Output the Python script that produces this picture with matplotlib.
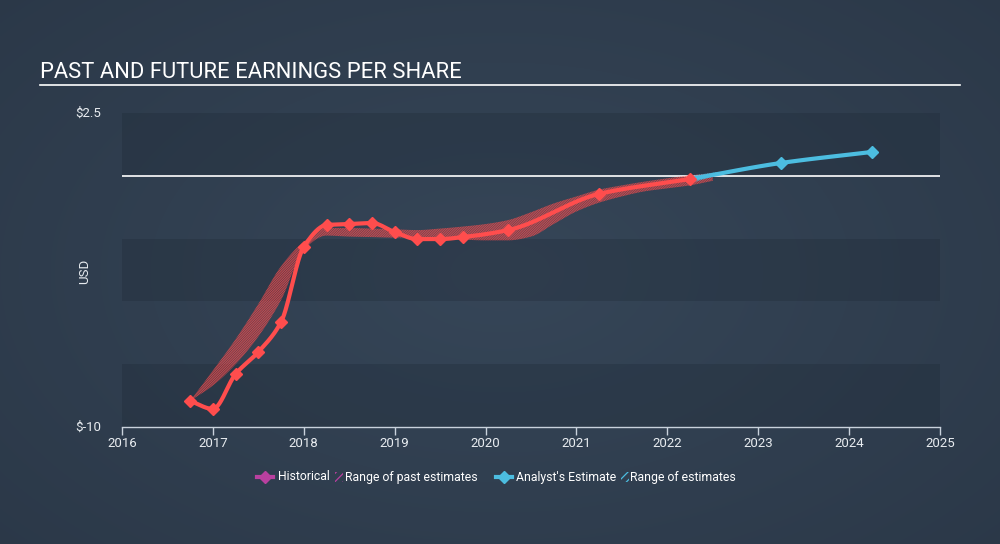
import numpy as np
import matplotlib
matplotlib.use("Agg")
import matplotlib.pyplot as plt
from matplotlib.lines import Line2D
from matplotlib.patches import Rectangle

# ---------------- data ----------------
hist_x = [2016.75, 2017.0, 2017.25, 2017.5, 2017.75, 2018.0, 2018.25, 2018.5,
          2018.75, 2019.0, 2019.25, 2019.5, 2019.75, 2020.25, 2021.25, 2022.25]
hist_eps = [-8.96, -9.28, -7.89, -7.01, -5.82, -2.83, -1.96, -1.92,
            -1.88, -2.24, -2.52, -2.52, -2.44, -2.16, -0.72, -0.13]

fc_x = [2022.25, 2023.25, 2024.25]
fc_eps = [-0.13, 0.51, 0.95]

past_rng_x = [2016.75, 2017.0, 2017.25, 2017.5, 2017.75, 2018.0, 2018.25, 2018.5,
              2018.75, 2019.0, 2019.25, 2019.5, 2019.75, 2020.0, 2020.25, 2020.5,
              2020.75, 2021.0, 2021.25, 2021.5, 2021.75, 2022.0, 2022.25, 2022.5]
past_rng_low = [-8.96, -8.35, -7.5, -6.4, -4.95, -2.95, -2.38, -2.42,
                -2.44, -2.46, -2.44, -2.47, -2.54, -2.57, -2.57, -2.42,
                -1.92, -1.42, -1.07, -0.82, -0.62, -0.5, -0.38, -0.2]
past_rng_high = [-8.96, -7.75, -6.5, -5.1, -3.6, -2.62, -2.08, -2.08,
                 -2.1, -2.13, -2.16, -2.1, -2.02, -1.92, -1.76, -1.45,
                 -1.1, -0.82, -0.55, -0.38, -0.23, -0.1, 0.02, 0.1]

fc_rng_x = [2022.25, 2022.55]
fc_rng_low = [-0.3, 0.02]
fc_rng_high = [0.0, 0.15]

x_ticks = list(range(2016, 2026))
y_tick_vals = [-10, 2.5]
y_tick_labels = ["$-10", "$2.5"]
band_edges = [(0, 2.5), (-5, -2.5), (-10, -7.5)]

title = "PAST AND FUTURE EARNINGS PER SHARE"
legend_items = ["Historical", "Range of past estimates", "Analyst's Estimate", "Range of estimates"]

RED = "#ff4d4d"
BLUE = "#4cbde0"
MAGENTA = "#b8409f"
TEXT = "#e8ecf0"


def monotone(x, y, n=30):
    """Monotone cubic (Fritsch-Carlson) rendering of a polyline."""
    x = np.asarray(x, float); y = np.asarray(y, float)
    if len(x) < 3:
        return x, y
    h = np.diff(x); d = np.diff(y) / h
    m = np.zeros_like(y)
    m[0] = d[0]; m[-1] = d[-1]
    for i in range(1, len(x) - 1):
        if d[i - 1] * d[i] <= 0:
            m[i] = 0
        else:
            w1 = 2 * h[i] + h[i - 1]; w2 = h[i] + 2 * h[i - 1]
            m[i] = (w1 + w2) / (w1 / d[i - 1] + w2 / d[i])
    xs, ys = [], []
    for i in range(len(x) - 1):
        t = np.linspace(0, 1, n, endpoint=(i == len(x) - 2))
        h00 = 2 * t**3 - 3 * t**2 + 1; h10 = t**3 - 2 * t**2 + t
        h01 = -2 * t**3 + 3 * t**2; h11 = t**3 - t**2
        xs.append(x[i] + t * h[i])
        ys.append(h00 * y[i] + h10 * h[i] * m[i] + h01 * y[i + 1] + h11 * h[i] * m[i + 1])
    return np.concatenate(xs), np.concatenate(ys)


plt.rcParams['font.family'] = ['Roboto', 'DejaVu Sans']
plt.rcParams['hatch.linewidth'] = 0.9

fig = plt.figure(figsize=(10, 5.44), dpi=100)

# background radial gradient
bg = fig.add_axes([0, 0, 1, 1], zorder=-10)
yy, xx = np.mgrid[0:544, 0:1000]
r = np.sqrt(((xx - 500) / 700.0) ** 2 + ((yy - 272) / 420.0) ** 2)
r = np.clip(r, 0, 1)
c_in = np.array([0x36, 0x46, 0x58]) / 255.0
c_out = np.array([0x2b, 0x38, 0x48]) / 255.0
img = c_in[None, None, :] * (1 - r[..., None]) + c_out[None, None, :] * r[..., None]
bg.imshow(img, aspect='auto', extent=[0, 1, 0, 1], origin='upper')
bg.axis('off')

ax = fig.add_axes([0.122, 1 - 427 / 544, 0.818, (427 - 113) / 544])
ax.set_facecolor('none')
ax.set_xlim(2016, 2025)
ax.set_ylim(-10, 2.5)

for lo, hi in band_edges:
    ax.axhspan(lo, hi, color='#1c2733', alpha=0.28, lw=0, zorder=0)
ax.axhline(0, color='white', lw=1.2, zorder=2)

# ranges
sx, slo = monotone(past_rng_x, past_rng_low)
_, shi = monotone(past_rng_x, past_rng_high)
ax.fill_between(sx, slo, shi, facecolor='none', edgecolor=RED, hatch='/' * 14, lw=0, alpha=0.7, zorder=3)
fx = np.linspace(fc_rng_x[0], fc_rng_x[-1], 20)
flo = np.interp(fx, fc_rng_x, fc_rng_low)
fhi = np.interp(fx, fc_rng_x, fc_rng_high)
ax.fill_between(fx, flo, fhi, facecolor='none', edgecolor=BLUE, hatch='/' * 14, lw=0, alpha=0.7, zorder=3)

# lines
bx, by = monotone(fc_x, fc_eps)
ax.plot(bx, by, color=BLUE, lw=3, zorder=4, solid_capstyle='round')
ax.plot(fc_x[1:], fc_eps[1:], 'D', color=BLUE, ms=6.5, zorder=5)
hx, hy = monotone(hist_x, hist_eps)
ax.plot(hx, hy, color=RED, lw=3, zorder=6, solid_capstyle='round')
ax.plot(hist_x, hist_eps, 'D', color=RED, ms=6.5, zorder=7)

# axes styling
for s in ['top', 'right', 'left']:
    ax.spines[s].set_visible(False)
ax.spines['bottom'].set_color('#c9d2dc')
ax.spines['bottom'].set_linewidth(1)
ax.set_xticks(x_ticks)
ax.set_xticklabels([str(t) for t in x_ticks])
ax.tick_params(axis='x', colors='#c9d2dc', labelcolor=TEXT, length=6, width=1, labelsize=9.5, pad=1)
ax.set_yticks(y_tick_vals)
ax.set_yticklabels(y_tick_labels)
ax.tick_params(axis='y', length=0, labelcolor=TEXT, labelsize=9.5, pad=15)
for lbl in ax.get_yticklabels():
    lbl.set_verticalalignment('center')
fig.text(85 / 1000, 1 - 271 / 544, "USD", color=TEXT, fontsize=9.5, rotation=90, ha='center', va='center')

# title and underline
fig.text(0.040, 1 - 72 / 544, title, color='white', fontsize=15.8, va='center', ha='left')
fig.add_artist(Line2D([0.040, 0.960], [1 - 85 / 544, 1 - 85 / 544], color='white', lw=1.2))

# legend
ly = 1 - 477 / 544
def mk(xc, color):
    fig.add_artist(Line2D([(xc - 8) / 1000, (xc + 8) / 1000], [ly, ly], color=color, lw=3))
    fig.add_artist(Line2D([xc / 1000], [ly], marker='D', color=color, ms=6))
def hatch_box(xl, color):
    fig.add_artist(Rectangle((xl / 1000, ly - 5 / 544), 8 / 1000, 10 / 544, facecolor='none',
                             edgecolor=color, hatch='////', lw=0, transform=fig.transFigure))
mk(265, MAGENTA)
fig.text(278 / 1000, ly, legend_items[0], color='white', fontsize=8.8, va='center')
hatch_box(335, MAGENTA)
fig.text(345 / 1000, ly, legend_items[1], color='white', fontsize=8.8, va='center')
mk(504, BLUE)
fig.text(516 / 1000, ly, legend_items[2], color='white', fontsize=8.8, va='center')
hatch_box(621, BLUE)
fig.text(630 / 1000, ly, legend_items[3], color='white', fontsize=8.8, va='center')

fig.savefig("out.png", dpi=100, facecolor='#2f3d4d')
